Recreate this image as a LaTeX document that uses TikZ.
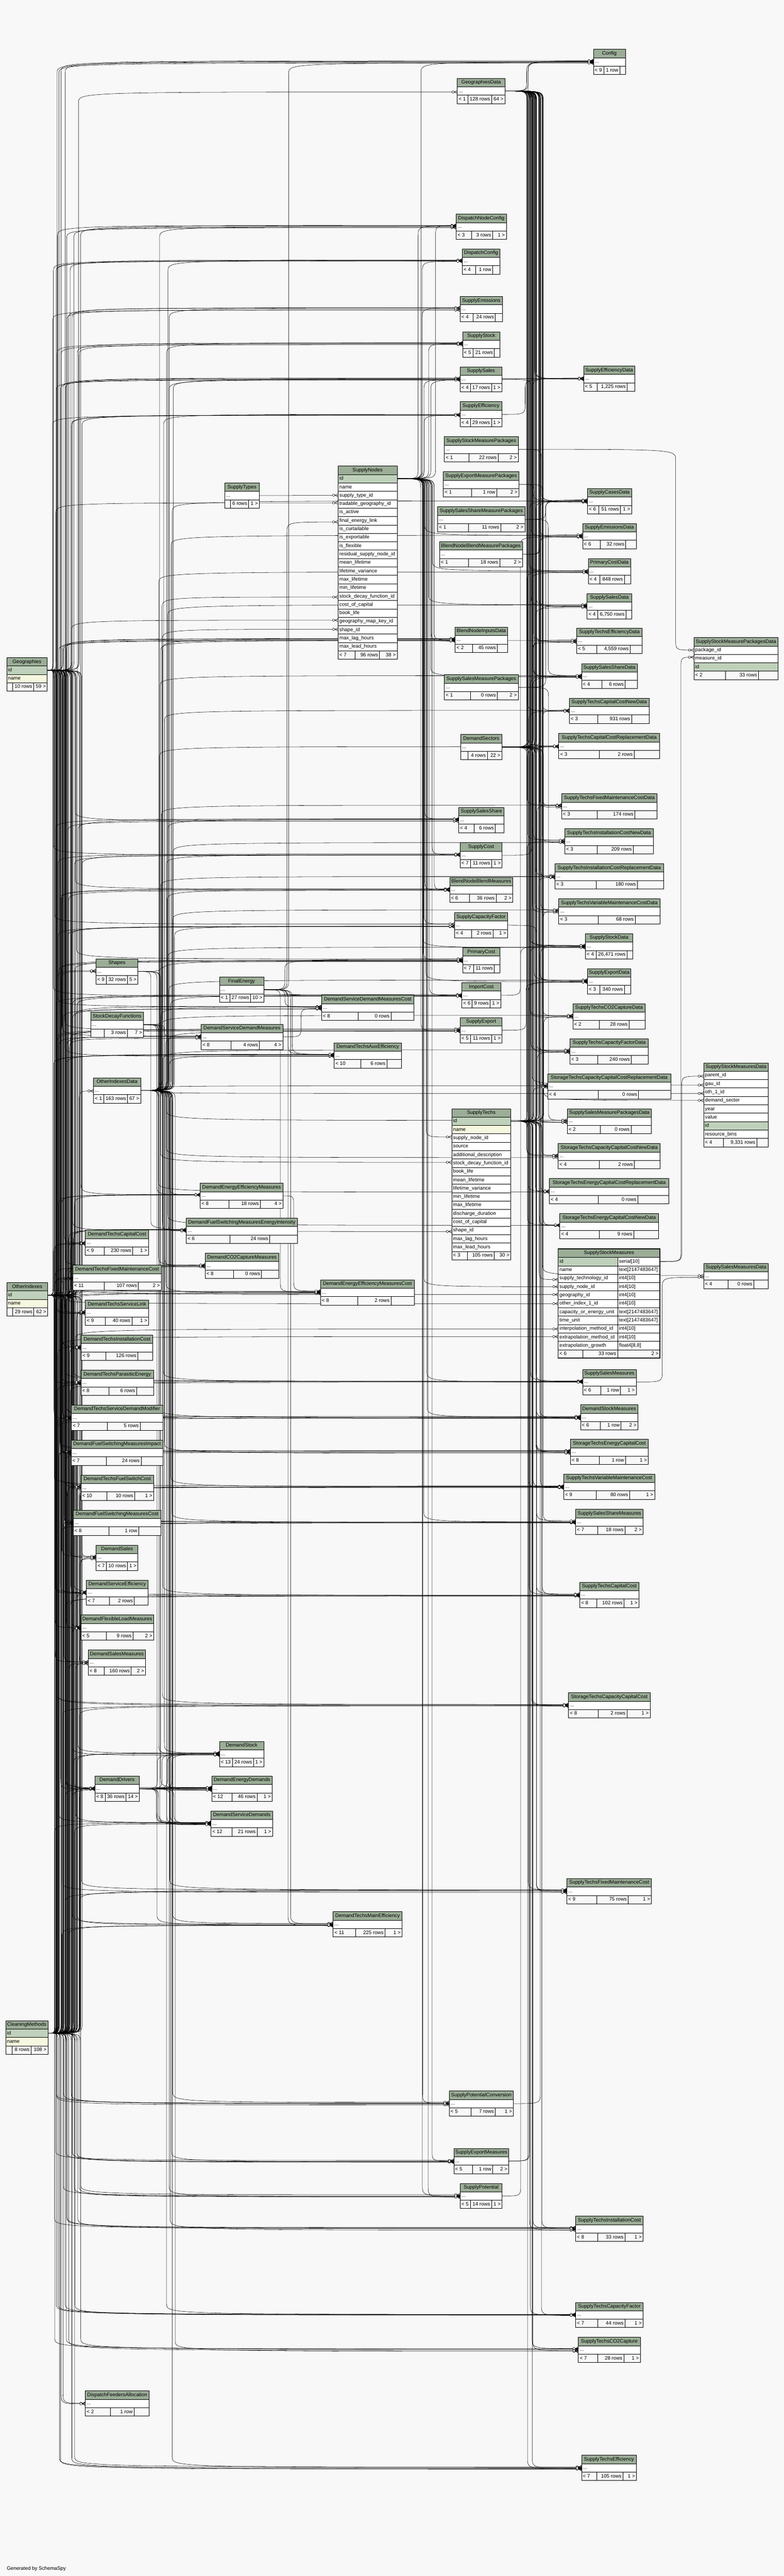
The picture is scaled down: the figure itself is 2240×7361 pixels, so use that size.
\documentclass[tikz,border=0pt]{standalone}
\usepackage{fontspec}
\setmainfont{Liberation Sans}
\usetikzlibrary{calc}

\definecolor{bgc}{HTML}{F8F8F8}
\definecolor{hdrc}{HTML}{9BAD97}
\definecolor{keyc}{HTML}{BFD1BB}
\definecolor{idxc}{HTML}{F5F7DE}
\definecolor{footc}{HTML}{F8F8F8}

\pgfdeclarelayer{bg}
\pgfdeclarelayer{edges}
\pgfsetlayers{bg,edges,main}

\newcommand{\tabfont}{\fontsize{14.4}{17}\selectfont}
\newdimen\fwa \newdimen\fwb \newdimen\fwc

\tikzset{
  hdr/.style={draw, line width=1pt, fill=hdrc, anchor=north west, outer sep=0pt,
    minimum height=24pt, inner sep=0pt, text height=10.5pt, text depth=3pt, font=\tabfont},
  cell/.style={draw, line width=1pt, fill=white, anchor=north west, outer sep=0pt,
    minimum height=24pt, inner xsep=4pt, inner ysep=0pt, text height=10.5pt, text depth=3pt, font=\tabfont},
  foot/.style={cell, fill=footc},
  fk/.style={line width=0.8pt, line join=round},
  crow/.pic={
    \draw[line width=0.8pt] (-9,0) -- (0,-4.5) (-9,0) -- (0,4.5);
    \draw[line width=0.8pt, fill=white] (-12.5,0) circle (3.3pt);
  }
}

% footer row: parents, rows, children
\newcommand{\tabfoot}[7]{%
  \pgfinterruptpicture
    \settowidth{\fwa}{\tabfont #5}\global\fwa=\fwa
    \settowidth{\fwb}{\tabfont #6}\global\fwb=\fwb
    \settowidth{\fwc}{\tabfont #7}\global\fwc=\fwc
  \endpgfinterruptpicture
  \edef\fmA{\the\fwa}\edef\fmB{\the\fwb}\edef\fmC{\the\fwc}%
  \pgfmathsetmacro\fcA{max(\fmA+10,16)}%
  \pgfmathsetmacro\fcB{\fmB+10}%
  \pgfmathsetmacro\fcC{max(\fmC+10,16)}%
  \pgfmathsetmacro\fcX{#4-\fcA-\fcB-\fcC}%
  \pgfmathsetmacro\fcWa{max(\fcA+0.45*\fcX,\fmA+9)}%
  \pgfmathsetmacro\fcWb{max(\fcB+0.25*\fcX,\fmB+9)}%
  \pgfmathsetmacro\fcTa{\fcWa-8}%
  \pgfmathsetmacro\fcTb{\fcWb-8}%
  \pgfmathsetmacro\fcTc{max(#4-\fcWa-\fcWb-8,0)}%
  \node[foot] (#1-f1) at (#2,#3) {\makebox[\fcTa pt][l]{#5}};
  \node[foot] (#1-f2) at (#1-f1.north east) {\makebox[\fcTb pt][r]{#6}};
  \node[foot] (#1-f3) at (#1-f2.north east) {\makebox[\fcTc pt][r]{#7}};}

% collapsed table: name, x, y, width, title, parents, rows, children
\newcommand{\dbtable}[8]{%
  \node[hdr, minimum width=#4pt] (#1-h) at (#2,#3) {#5};
  \pgfmathsetmacro\tbW{#4-8}%
  \node[cell] (#1) at (#2,#3+24) {\makebox[\tbW pt][l]{...}};
  \tabfoot{#1}{#2}{#3+48}{#4}{#6}{#7}{#8}}

% table with its columns: name, x, y, width, title, column/fill list
\newcommand{\coltable}[6]{%
  \node[hdr, minimum width=#4pt] (#1-h) at (#2,#3) {#5};
  \pgfmathsetmacro\tbW{#4-8}%
  \foreach \rn/\rf [count=\i] in {#6}
    \node[cell, fill=\rf] (#1-\i) at (#2,#3+24*\i) {\makebox[\tbW pt][l]{\rn}};}

% foreign key: parent, child, channel offset, end shift
\newcommand{\fk}[4]{%
  \draw[fk] let \p1=(#1.east), \p2=([yshift=#4 pt]#2.west),
    \n1={min(#3,\x2-\x1-25)},
    \n2={ifthenelse(\y2>\y1,1,-1)*min(30,abs(\y2-\y1)/2)} in
    (\p1) .. controls (\x1+\n1,\y1) .. (\x1+\n1,\y1+\n2)
    -- (\x1+\n1,\y2-\n2) .. controls (\x1+\n1,\y2) .. (\p2) pic {crow};}

% all keys of one parent
\newcommand{\fan}[4]{%
  \edef\fanlist{#4}%
  \foreach \ch in \fanlist {%
    \pgfmathsetmacro\chx{#2+rnd*(#3-#2)}%
    \pgfmathsetmacro\chy{rnd*8-4}%
    \fk{#1}{\ch}{\chx}{\chy}}}

% groups of child tables
\newcommand{\Dmleft}{dtcc,dtfmc,dtsl,dtic,dtpe,dtsdm,dfsmi,dtfsc,dfsmc,dsales,dse,dflm,dsm,ddrv}
\newcommand{\Dmright}{dsdm,deem,dfsmei,dco2,dstock,ded,dsd,dsdmc,dtae,deemc,dtme}
\newcommand{\Sfour}{dnc,dcfg,semi,sstock,ssales,seff,bnid,sss,scost,bnbm,scf,pc,ic,sexp,spc,sem,spot}
\newcommand{\Mlist}{ssalm,dstm,stecc,stvmc,sssm,stcc,stccc,stfmc,stic,stcf,stco2,steff}
\newcommand{\Dlist}{sefd,scd,semd,pcd,ssd,sted,sssd,stccnd,stccrd,stfmcd,sticnd,sticrd,stvmcd,sstd,sexd,stco2d,stcfd,stcccrd,ssalmpd,stcccnd,steccrd,steccnd}

\begin{document}
\begin{tikzpicture}[x=1pt, y=-1pt]
  \useasboundingbox (0,0) rectangle (2240,7361);
  \begin{pgfonlayer}{bg}
    \fill[bgc] (0,0) rectangle (2240,7361);
  \end{pgfonlayer}

  % === Root tables ===
  \coltable{geo}{19}{1879}{116}{Geographies}{id/keyc,name/idxc}
  \tabfoot{geo}{19}{1951}{116}{}{10 rows}{59 >}
  \coltable{oi}{19}{3665}{117}{OtherIndexes}{id/keyc,name/idxc}
  \tabfoot{oi}{19}{3737}{117}{}{29 rows}{62 >}
  \coltable{cm}{16}{5774}{121}{CleaningMethods}{id/keyc,name/idxc}
  \tabfoot{cm}{16}{5846}{121}{}{8 rows}{108 >}

  % === Second column ===
  \dbtable{shp}{274}{2740}{120}{Shapes}{< 9}{32 rows}{5 >}
  \dbtable{sdf}{259}{2892}{151}{StockDecayFunctions}{}{3 rows}{7 >}
  \dbtable{oid}{267}{3080}{135}{OtherIndexesData}{< 1}{163 rows}{67 >}
  \dbtable{dtcc}{244}{3515}{181}{DemandTechsCapitalCost}{< 9}{230 rows}{1 >}
  \dbtable{dtfmc}{208}{3615}{253}{DemandTechsFixedMaintenanceCost}{< 11}{107 rows}{2 >}
  \dbtable{dtsl}{244}{3715}{181}{DemandTechsServiceLink}{< 9}{40 rows}{1 >}
  \dbtable{dtic}{232}{3815}{205}{DemandTechsInstallationCost}{< 9}{126 rows}{}
  \dbtable{dtpe}{231}{3915}{208}{DemandTechsParasiticEnergy}{< 8}{6 rows}{}
  \dbtable{dtsdm}{204}{4015}{261}{DemandTechsServiceDemandModifier}{< 7}{5 rows}{}
  \dbtable{dfsmi}{203}{4115}{263}{DemandFuelSwitchingMeasuresImpact}{< 7}{24 rows}{}
  \dbtable{dtfsc}{231}{4215}{208}{DemandTechsFuelSwitchCost}{< 10}{10 rows}{1 >}
  \dbtable{dfsmc}{209}{4315}{251}{DemandFuelSwitchingMeasuresCost}{< 8}{1 row}{}
  \dbtable{dsales}{275}{4415}{119}{DemandSales}{< 7}{10 rows}{1 >}
  \dbtable{dse}{247}{4515}{176}{DemandServiceEfficiency}{< 7}{2 rows}{}
  \dbtable{dflm}{231}{4615}{208}{DemandFlexibleLoadMeasures}{< 5}{9 rows}{2 >}
  \dbtable{dsm}{252}{4715}{164}{DemandSalesMeasures}{< 8}{160 rows}{2 >}
  \dbtable{ddrv}{271}{5075}{127}{DemandDrivers}{< 8}{36 rows}{14 >}
  \dbtable{dfa}{244}{6832}{182}{DispatchFeedersAllocation}{< 2}{1 row}{}

  % === Third column ===
  \dbtable{stype}{642}{1380}{99}{SupplyTypes}{}{6 rows}{1 >}
  \dbtable{fe}{627}{2792}{127}{FinalEnergy}{< 1}{27 rows}{10 >}
  \dbtable{dsdm}{575}{2927}{233}{DemandServiceDemandMeasures}{< 8}{4 rows}{4 >}
  \dbtable{deem}{572}{3381}{237}{DemandEnergyEfficiencyMeasures}{< 8}{18 rows}{4 >}
  \dbtable{dfsmei}{532}{3481}{318}{DemandFuelSwitchingMeasuresEnergyIntensity}{< 6}{24 rows}{}
  \dbtable{dco2}{586}{3581}{211}{DemandCO2CaptureMeasures}{< 8}{0 rows}{}
  \dbtable{dstock}{627}{4976}{127}{DemandStock}{< 13}{24 rows}{1 >}
  \dbtable{ded}{605}{5075}{173}{DemandEnergyDemands}{< 12}{46 rows}{1 >}
  \dbtable{dsd}{603}{5175}{176}{DemandServiceDemands}{< 12}{21 rows}{1 >}

  % === Fourth column ===
  \coltable{sn}{966}{1332}{169}{SupplyNodes}{id/keyc, name/white, supply\_type\_id/white,
    tradable\_geography\_id/white, is\_active/white, final\_energy\_link/white,
    is\_curtailable/white, is\_exportable/white, is\_flexible/white,
    residual\_supply\_node\_id/white, mean\_lifetime/white, lifetime\_variance/white,
    max\_lifetime/white, min\_lifetime/white, stock\_decay\_function\_id/white,
    cost\_of\_capital/white, book\_life/white, geography\_map\_key\_id/white,
    shape\_id/white, max\_lag\_hours/white, max\_lead\_hours/white}
  \tabfoot{sn}{966}{1860}{169}{< 7}{96 rows}{38 >}
  \dbtable{dsdmc}{919}{2844}{264}{DemandServiceDemandMeasuresCost}{< 8}{0 rows}{}
  \dbtable{dtae}{955}{2980}{192}{DemandTechsAuxEfficiency}{< 10}{6 rows}{}
  \dbtable{deemc}{916}{3657}{268}{DemandEnergyEfficiencyMeasuresCost}{< 8}{2 rows}{}
  \dbtable{dtme}{952}{5463}{197}{DemandTechsMainEfficiency}{< 11}{225 rows}{1 >}

  % === Fifth column ===
  \dbtable{gd}{1307}{224}{136}{GeographiesData}{< 1}{128 rows}{64 >}
  \dbtable{dnc}{1304}{612}{143}{DispatchNodeConfig}{< 3}{3 rows}{1 >}
  \dbtable{dcfg}{1321}{711}{108}{DispatchConfig}{< 4}{1 row}{}
  \dbtable{semi}{1315}{847}{121}{SupplyEmissions}{< 4}{24 rows}{}
  \dbtable{sstock}{1322}{948}{107}{SupplyStock}{< 5}{21 rows}{}
  \dbtable{ssales}{1315}{1048}{119}{SupplySales}{< 4}{17 rows}{1 >}
  \dbtable{seff}{1315}{1148}{119}{SupplyEfficiency}{< 4}{29 rows}{1 >}
  \dbtable{ssmp}{1270}{1248}{211}{SupplyStockMeasurePackages}{< 1}{22 rows}{2 >}
  \dbtable{semp}{1267}{1348}{216}{SupplyExportMeasurePackages}{< 1}{1 row}{2 >}
  \dbtable{sssmp}{1251}{1448}{249}{SupplySalesShareMeasurePackages}{< 1}{11 rows}{2 >}
  \dbtable{bnbmp}{1256}{1548}{237}{BlendNodeBlendMeasurePackages}{< 1}{18 rows}{2 >}
  \dbtable{bnid}{1301}{1792}{149}{BlendNodeInputsData}{< 2}{45 rows}{}
  \dbtable{ssalmp}{1270}{1928}{211}{SupplySalesMeasurePackages}{< 1}{0 rows}{2 >}
  \dbtable{ds}{1317}{2099}{117}{DemandSectors}{}{4 rows}{22 >}
  \dbtable{sss}{1311}{2307}{130}{SupplySalesShare}{< 4}{6 rows}{}
  \dbtable{scost}{1315}{2408}{120}{SupplyCost}{< 7}{11 rows}{1 >}
  \dbtable{bnbm}{1285}{2507}{181}{BlendNodeBlendMeasures}{< 6}{36 rows}{2 >}
  \dbtable{scf}{1299}{2608}{152}{SupplyCapacityFactor}{< 4}{2 rows}{1 >}
  \dbtable{pc}{1322}{2708}{107}{PrimaryCost}{< 7}{11 rows}{}
  \dbtable{ic}{1320}{2808}{111}{ImportCost}{< 6}{9 rows}{1 >}
  \dbtable{sexp}{1315}{2908}{120}{SupplyExport}{< 5}{11 rows}{1 >}
  \coltable{st}{1291}{3168}{169}{SupplyTechs}{id/keyc, name/idxc, supply\_node\_id/white,
    source/white, additional\_description/white, stock\_decay\_function\_id/white,
    book\_life/white, mean\_lifetime/white, lifetime\_variance/white, min\_lifetime/white,
    max\_lifetime/white, discharge\_duration/white, cost\_of\_capital/white,
    shape\_id/white, max\_lag\_hours/white, max\_lead\_hours/white}
  \tabfoot{st}{1291}{3576}{169}{< 3}{105 rows}{30 >}
  \dbtable{spc}{1284}{5975}{183}{SupplyPotentialConversion}{< 5}{7 rows}{1 >}
  \dbtable{sem}{1297}{6139}{157}{SupplyExportMeasures}{< 5}{1 row}{2 >}
  \dbtable{spot}{1315}{6239}{120}{SupplyPotential}{< 5}{14 rows}{1 >}

  % === Sixth column ===
  \dbtable{cfg}{1696}{141}{91}{Config}{< 9}{1 row}{}
  \dbtable{sefd}{1668}{1046}{146}{SupplyEfficiencyData}{< 5}{1,225 rows}{}
  \dbtable{scd}{1679}{1396}{126}{SupplyCasesData}{< 6}{51 rows}{1 >}
  \dbtable{semd}{1665}{1496}{153}{SupplyEmissionsData}{< 6}{32 rows}{}
  \dbtable{pcd}{1681}{1596}{121}{PrimaryCostData}{< 4}{848 rows}{}
  \dbtable{ssd}{1678}{1696}{127}{SupplySalesData}{< 4}{6,750 rows}{}
  \dbtable{sted}{1648}{1795}{187}{SupplyTechsEfficiencyData}{< 5}{4,559 rows}{}
  \dbtable{sssd}{1662}{1896}{159}{SupplySalesShareData}{< 4}{6 rows}{}
  \dbtable{stccnd}{1627}{1995}{228}{SupplyTechsCapitalCostNewData}{< 3}{931 rows}{}
  \dbtable{stccrd}{1597}{2096}{288}{SupplyTechsCapitalCostReplacementData}{< 3}{2 rows}{}
  \dbtable{stfmcd}{1605}{2268}{273}{SupplyTechsFixedMaintenanceCostData}{< 3}{174 rows}{}
  \dbtable{sticnd}{1614}{2368}{253}{SupplyTechsInstallationCostNewData}{< 3}{209 rows}{}
  \dbtable{sticrd}{1586}{2468}{310}{SupplyTechsInstallationCostReplacementData}{< 3}{180 rows}{}
  \dbtable{stvmcd}{1597}{2568}{289}{SupplyTechsVariableMaintenanceCostData}{< 3}{68 rows}{}
  \dbtable{sstd}{1673}{2668}{135}{SupplyStockData}{< 4}{26,471 rows}{}
  \dbtable{sexd}{1679}{2768}{124}{SupplyExportData}{< 3}{340 rows}{}
  \dbtable{stco2d}{1637}{2868}{207}{SupplyTechsCO2CaptureData}{< 2}{28 rows}{}
  \dbtable{stcfd}{1629}{2968}{224}{SupplyTechsCapacityFactorData}{< 3}{240 rows}{}
  \dbtable{stcccrd}{1565}{3068}{352}{StorageTechsCapacityCapitalCostReplacementData}{< 4}{0 rows}{}
  \dbtable{ssalmpd}{1621}{3168}{241}{SupplySalesMeasurePackagesData}{< 2}{0 rows}{}
  \dbtable{stcccnd}{1595}{3268}{292}{StorageTechsCapacityCapitalCostNewData}{< 4}{2 rows}{}
  \dbtable{steccrd}{1570}{3368}{342}{StorageTechsEnergyCapitalCostReplacementData}{< 4}{0 rows}{}
  \dbtable{steccnd}{1600}{3468}{282}{StorageTechsEnergyCapitalCostNewData}{< 4}{9 rows}{}

  % SupplyStockMeasures, shown with its columns
  \node[hdr, minimum width=291pt] (ssm-h) at (1595,3569) {SupplyStockMeasures};
  \foreach \rn/\rt/\rf [count=\i] in {id/{serial[10]}/keyc, name/{text[2147483647]}/white,
      supply\_technology\_id/{int4[10]}/white, supply\_node\_id/{int4[10]}/white,
      geography\_id/{int4[10]}/white, other\_index\_1\_id/{int4[10]}/white,
      capacity\_or\_energy\_unit/{text[2147483647]}/white, time\_unit/{text[2147483647]}/white,
      interpolation\_method\_id/{int4[10]}/white, extrapolation\_method\_id/{int4[10]}/white,
      extrapolation\_growth/{float4[8,8]}/white} {
    \node[cell, fill=\rf] (ssm-\i) at (1595,3569+24*\i) {\makebox[162pt][l]{\rn}};
    \node[cell] (ssm-\i-t) at (1765,3569+24*\i) {\makebox[113pt][l]{\rt}};
  }
  \node[foot] (ssm-f1) at (1595,3857) {\makebox[62pt][l]{< 6}};
  \node[foot] (ssm-f2) at (ssm-f1.north east) {\makebox[92pt][r]{33 rows}};
  \node[foot] (ssm-f3) at (ssm-f2.north east) {\makebox[113pt][r]{2 >}};
  \draw[line width=2.5pt] (ssm-h.north west) rectangle (ssm-f3.south east);

  \dbtable{ssalm}{1665}{3913}{153}{SupplySalesMeasures}{< 6}{1 row}{1 >}
  \dbtable{dstm}{1659}{4014}{164}{DemandStockMeasures}{< 6}{1 row}{2 >}
  \dbtable{stecc}{1630}{4113}{223}{StorageTechsEnergyCapitalCost}{< 8}{1 row}{1 >}
  \dbtable{stvmc}{1611}{4212}{260}{SupplyTechsVariableMaintenanceCost}{< 9}{80 rows}{1 >}
  \dbtable{sssm}{1645}{4313}{193}{SupplySalesShareMeasures}{< 7}{18 rows}{2 >}
  \dbtable{stcc}{1657}{4521}{169}{SupplyTechsCapitalCost}{< 8}{102 rows}{1 >}
  \dbtable{stccc}{1625}{4837}{233}{StorageTechsCapacityCapitalCost}{< 8}{2 rows}{1 >}
  \dbtable{stfmc}{1620}{5368}{242}{SupplyTechsFixedMaintenanceCost}{< 9}{75 rows}{1 >}
  \dbtable{stic}{1645}{6333}{193}{SupplyTechsInstallationCost}{< 8}{33 rows}{1 >}
  \dbtable{stcf}{1645}{6579}{193}{SupplyTechsCapacityFactor}{< 7}{44 rows}{1 >}
  \dbtable{stco2}{1653}{6679}{177}{SupplyTechsCO2Capture}{< 7}{28 rows}{1 >}
  \dbtable{steff}{1662}{7016}{157}{SupplyTechsEfficiency}{< 7}{105 rows}{1 >}

  % === Last column ===
  \coltable{ssmpd}{1983}{1822}{241}{SupplyStockMeasurePackagesData}{package\_id/white,measure\_id/white,id/keyc}
  \tabfoot{ssmpd}{1983}{1918}{241}{< 2}{33 rows}{}
  \coltable{ssmd}{2011}{3037}{185}{SupplyStockMeasuresData}{parent\_id/white, gau\_id/white,
    oth\_1\_id/white, demand\_sector/white, year/white, value/white, id/keyc, resource\_bins/white}
  \tabfoot{ssmd}{2011}{3253}{185}{< 4}{9,331 rows}{}
  \dbtable{ssalmd}{2011}{3610}{185}{SupplySalesMeasuresData}{< 4}{0 rows}{}

  \node[anchor=west, font=\tabfont] (gen) at (16,7340) {Generated by SchemaSpy};

  % === Foreign keys ===
  \pgfmathsetseed{7}
  \begin{pgfonlayer}{edges}
    % root tables
    \fan{geo-1}{15}{100}{gd,cfg,sn-4,sn-18,ssm-5,dfa,\Dmleft,\Dmright,\Sfour,\Mlist}
    \fan{oi-1}{15}{100}{cfg,oid,shp,ssm-6,\Dmleft,\Dmleft,\Dmright,\Sfour,\Mlist}
    \fan{cm-1}{15}{100}{cfg,cfg,shp,dfa,ssm-9,ssm-10,\Dmleft,\Dmleft,\Dmright,\Dmright,\Sfour,\Sfour,\Mlist,\Mlist}
    % data keys
    \fan{gd}{62}{110}{cfg,cfg,ssmd-2,ssalmd,\Dlist,\Dlist,\Mlist}
    \fan{oid}{50}{100}{ssmd-3,\Dmright,\Sfour,\Mlist,\Dlist}
    % supply side
    \fan{sn-1}{60}{110}{cfg,st-3,ssm-4,\Sfour,sefd,semd,pcd,ssd,sstd,sexd,sssd,ssalm,dstm,sssm,bnbm,bnid,dnc,spot}
    \fan{st-1}{45}{95}{sted,stccnd,stccrd,stfmcd,sticnd,sticrd,stvmcd,stco2d,stcfd,stcccrd,stcccnd,steccrd,steccnd,ssm-3,stecc,stvmc,stcc,stccc,stfmc,stic,stcf,stco2,steff,sstd,ssalm,dstm,sssm,sssd,ssd,ssalmpd}
    \fan{ds}{70}{120}{cfg,stccnd,stccrd,stfmcd,sticnd,sticrd,stvmcd,sted,stcfd,stco2d,ssmd-4,sssd,ssd,sstd,semd,pcd,sefd,scd,stecc,stvmc,stcc,stfmc,stic}
    % demand side
    \fan{ddrv}{40}{100}{dstock,dstock,dstock,dstock,ded,ded,ded,ded,ded,dsd,dsd,dsd,dsd,dsd}
    \fan{fe}{40}{100}{cfg,sn-6,dsdmc,dtae,dtae,deemc,dtme,dtme,pc,ic}
    \fan{sdf}{30}{70}{sn-15,st-6,dsdm,deem,dco2,dstock,dfsmei}
    \fan{shp}{30}{70}{sn-19,st-14,ded,dsd,dtme}
    \fan{stype}{100}{100}{sn-3}
    \fan{dsdm}{30}{60}{dsdmc}
    \fan{deem}{30}{60}{deemc}
    % packages and measures
    \fan{ssmp}{450}{450}{ssmpd-1}
    \fan{ssmp}{40}{90}{scd}
    \fan{semp}{40}{90}{scd,sexd}
    \fan{sssmp}{40}{90}{scd,sssd}
    \fan{bnbmp}{40}{90}{scd,semd}
    \fan{ssalmp}{40}{90}{scd,ssalmpd}
    \fan{seff}{40}{90}{sefd}
    \fan{ssales}{40}{90}{ssd}
    \fan{scost}{40}{90}{pcd}
    \fan{scf}{40}{90}{stcfd}
    \fan{ic}{40}{90}{semd}
    \fan{sexp}{40}{90}{sexd}
    \fan{spc}{40}{90}{sstd}
    \fan{spot}{40}{90}{sstd}
    \fan{sem}{40}{90}{sexd,scd}
    \fan{ssm-1-t}{45}{80}{ssmd-1,ssmpd-2}
    \fan{ssalm}{40}{80}{ssalmd}
  \end{pgfonlayer}
\end{tikzpicture}
\end{document}
